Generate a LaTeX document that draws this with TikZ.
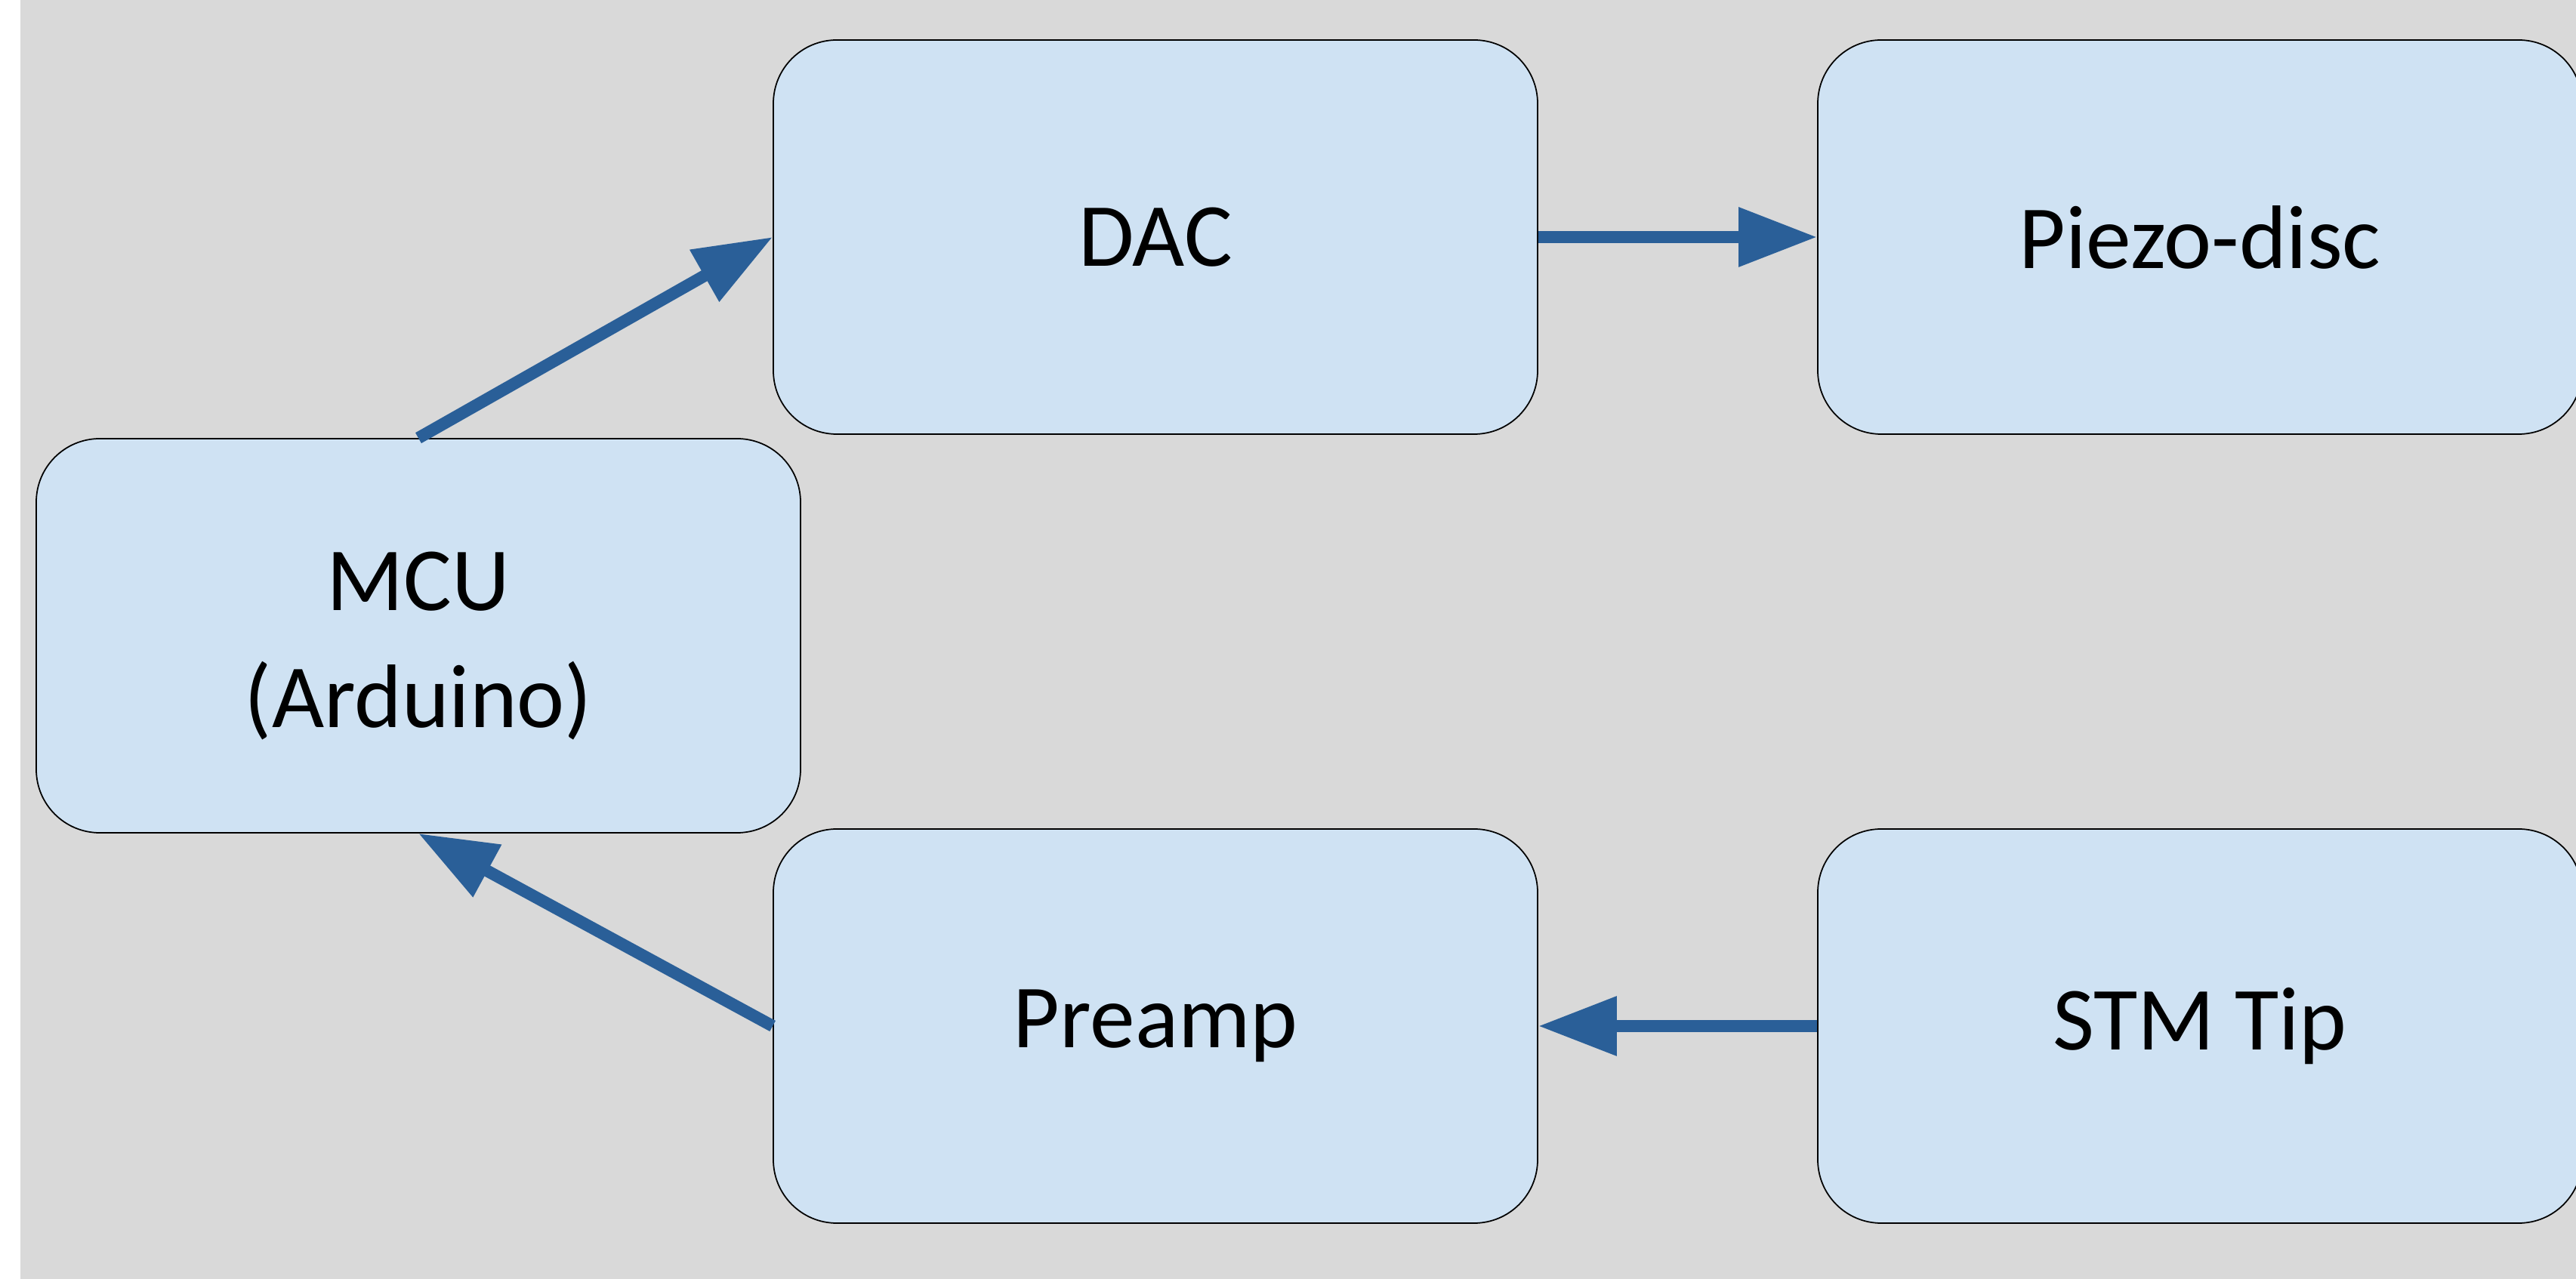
\documentclass[tikz,border=0pt]{standalone}
\usepackage{fontspec}
\usepackage{tikz}
\usetikzlibrary{arrows.meta}

\newfontfamily\blockfont{Carlito}
\definecolor{panelgray}{RGB}{217,217,217}
\definecolor{boxblue}{RGB}{207,226,243}
\definecolor{linkblue}{RGB}{42,95,152}

\begin{document}
\begin{tikzpicture}[
    block/.style={rectangle, rounded corners=0.84cm, draw=black, line width=0.5pt,
        fill=boxblue, minimum width=10.12cm, minimum height=5.22cm, inner sep=0pt,
        align=center, font=\blockfont\fontsize{34}{44}\selectfont},
    link/.style={draw=linkblue, line width=0.16cm,
        -{Triangle[length=1.04cm,width=0.75cm]}}
]
    \useasboundingbox (0,0) rectangle (34.11,16.94);
    \clip (0,0) rectangle (34.11,16.94);
    \fill[panelgray] (0.27,0) rectangle (34.11,16.94);

    % the two lines sit a little low in the box
    \node[block] (mcu)    at (5.54,8.52)
        {\raisebox{-0.13cm}[\height][\depth]{\begin{tabular}{@{}c@{}}MCU\\(Arduino)\end{tabular}}};
    \node[block] (dac)    at (15.30,13.80) {DAC};
    \node[block] (piezo)  at (29.13,13.80) {Piezo-disc};
    \node[block] (preamp) at (15.30,3.35) {Preamp};
    \node[block] (tip)    at (29.13,3.35) {STM Tip};

    \draw[link] (mcu.north) -- (dac.west);
    \draw[link] (dac) -- (piezo);
    \draw[link] (tip) -- (preamp);
    \draw[link] (preamp.west) -- (mcu.south);
\end{tikzpicture}
\end{document}
